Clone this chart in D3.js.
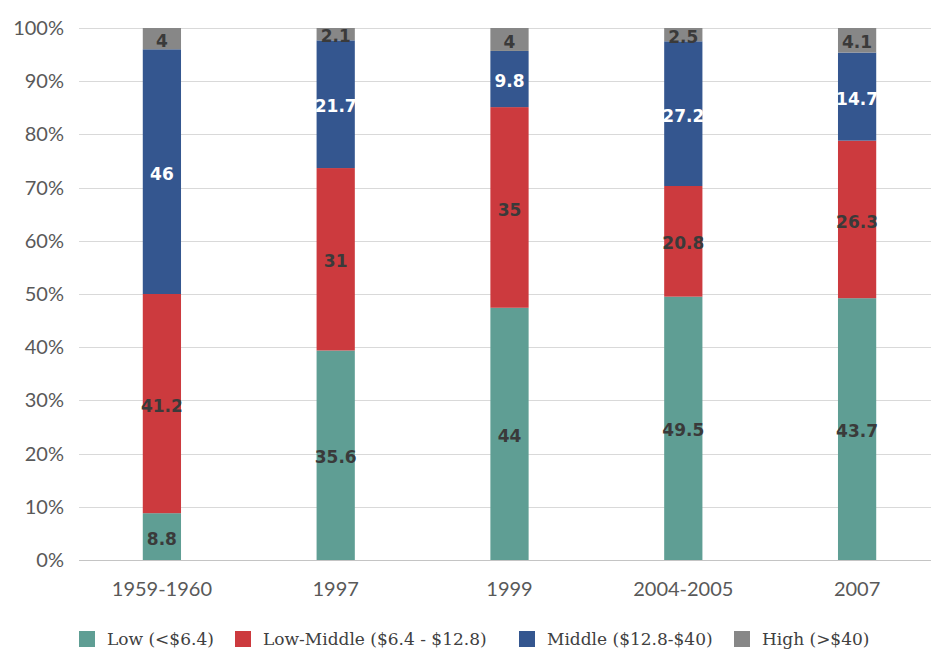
<!DOCTYPE html>
<html>
<head>
<meta charset="utf-8">
<script src="https://cdn.jsdelivr.net/npm/d3@7"></script>
<style>
  html, body { margin: 0; padding: 0; background: #fff; }
  svg { display: block; }
</style>
</head>
<body>
<svg id="chart" width="931" height="650"></svg>
<script>
// Income class shares by period (raw values; each bar is scaled to 100%)
const periods = ["1959-1960", "1997", "1999", "2004-2005", "2007"];
const low       = [8.8, 35.6, 44, 49.5, 43.7];
const lowMiddle = [41.2, 31, 35, 20.8, 26.3];
const middle    = [46, 21.7, 9.8, 27.2, 14.7];
const high      = [4, 2.1, 4, 2.5, 4.1];
const seriesNames = ["Low (<$6.4)", "Low-Middle ($6.4 - $12.8)", "Middle ($12.8-$40)", "High (>$40)"];
const yTicks = [0, 0.1, 0.2, 0.3, 0.4, 0.5, 0.6, 0.7, 0.8, 0.9, 1];

const keys = ["low", "lowMiddle", "middle", "high"];
const colors = ["#5f9e94", "#cc3a3e", "#34568f", "#878787"];
const labelColors = ["#3a3a3a", "#3a3a3a", "#ffffff", "#3a3a3a"];

const rows = periods.map((p, i) => ({
  period: p, low: low[i], lowMiddle: lowMiddle[i], middle: middle[i], high: high[i]
}));

const svg = d3.select("#chart");
const x = d3.scaleBand().domain(periods).range([75, 944]).paddingInner(0.78).paddingOuter(0.39);
const y = d3.scaleLinear().domain([0, 1]).range([560, 28]);

// Grid lines
svg.append("g")
  .selectAll("line")
  .data(yTicks)
  .join("line")
  .attr("x1", 79).attr("x2", 931)
  .attr("y1", d => Math.round(y(d)) + 0.5).attr("y2", d => Math.round(y(d)) + 0.5)
  .attr("stroke", d => d === 0 ? "#c4c4c4" : "#d9d9d9")
  .attr("stroke-width", 1);

// Y axis labels
const yAxis = svg.append("g")
  .attr("transform", "translate(64,0)")
  .call(d3.axisLeft(y).tickValues(yTicks).tickFormat(d3.format(".0%")).tickSize(0).tickPadding(0));
yAxis.select(".domain").remove();
yAxis.selectAll("text")
  .attr("font-family", "Lato, sans-serif")
  .attr("font-size", 20)
  .attr("fill", "#595959");

// X axis labels
const xAxis = svg.append("g")
  .attr("transform", "translate(0,582)")
  .call(d3.axisBottom(x).tickSize(0).tickPadding(0));
xAxis.select(".domain").remove();
xAxis.selectAll("text")
  .attr("font-family", "Lato, sans-serif")
  .attr("font-size", 20)
  .attr("fill", "#595959");

// Stacked, normalised bars
const stacked = d3.stack().keys(keys).offset(d3.stackOffsetExpand)(rows);

const layers = svg.append("g")
  .selectAll("g")
  .data(stacked)
  .join("g")
  .attr("fill", (d, i) => colors[i]);

layers.selectAll("rect")
  .data(d => d)
  .join("rect")
  .attr("x", d => x(d.data.period))
  .attr("width", x.bandwidth())
  .attr("y", d => y(d[1]))
  .attr("height", d => y(d[0]) - y(d[1]));

// Value labels at segment centres
const labels = svg.append("g");
stacked.forEach((layer, li) => {
  labels.selectAll(null)
    .data(layer)
    .join("text")
    .attr("x", d => x(d.data.period) + x.bandwidth() / 2)
    .attr("y", d => (y(d[0]) + y(d[1])) / 2 + 2)
    .attr("dy", "0.36em")
    .attr("text-anchor", "middle")
    .attr("font-family", "'DejaVu Sans', sans-serif")
    .attr("font-weight", "bold")
    .attr("font-size", 17)
    .attr("fill", labelColors[li])
    .text(d => d.data[layer.key]);
});

// Legend
const legendX = [79, 235, 519, 734];
const legend = svg.append("g");
seriesNames.forEach((name, i) => {
  const g = legend.append("g").attr("transform", `translate(${legendX[i]},631)`);
  g.append("rect").attr("width", 16).attr("height", 16).attr("fill", colors[i]);
  g.append("text")
    .attr("x", 28).attr("y", 14)
    .attr("font-family", "'DejaVu Serif', serif")
    .attr("font-size", 17)
    .attr("fill", "#404040")
    .text(name);
});
</script>
</body>
</html>
